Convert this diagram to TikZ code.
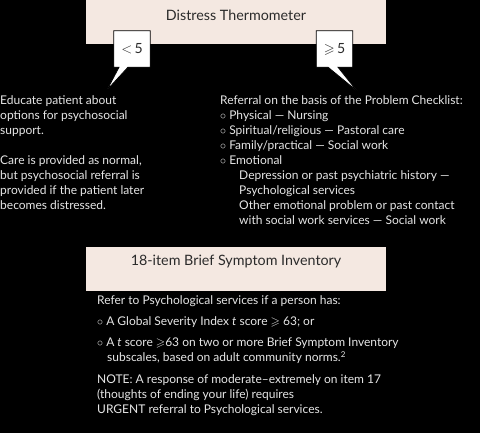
\documentclass[tikz,border=0pt]{standalone}
\usepackage{amssymb}
\usepackage{fontspec}
\setmainfont{Lato}
\usetikzlibrary{calc}

\definecolor{headfill}{HTML}{F4E8E1}
\definecolor{headtext}{HTML}{2B2B2B}
\definecolor{bodytext}{HTML}{E6E6E6}

\begin{document}
\begin{tikzpicture}[x=1pt, y=-1pt,
    headbox/.style={fill=headfill, minimum width=300pt, minimum height=44pt,
                    inner sep=0pt, anchor=north west},
    headlabel/.style={text=headtext, font=\fontsize{14.3}{15}\selectfont},
    cutoffbox/.style={minimum width=36pt, minimum height=36pt, inner sep=0pt},
    cutoffline/.style={draw=black, fill=white, line width=0.8pt, line join=miter},
    cutofflabel/.style={text=headtext, font=\fontsize{14}{15}\selectfont},
    bodyblock/.style={text=bodytext, align=left, inner sep=0pt, anchor=north west,
                      font=\fontsize{12}{15}\selectfont}]

    % -- Sfondo nero, fissa anche i margini --
    \fill[black] (0,0) rectangle (480,433);

    % -- Intestazione: Distress Thermometer --
    \node[headbox] (dtbox) at (86,0) {};
    \node[headlabel] (dtlabel) at (236,15) {Distress Thermometer};

    % -- Fumetti con le soglie --
    \node[cutoffbox] (low) at (132,49) {};
    \node[cutoffbox] (high) at (334.5,49) {};
    \coordinate (lowtip) at (107,90);
    \coordinate (hightip) at (357,91);

    \filldraw[cutoffline] (low.north west) -- (low.north east) -- (low.south east)
        -- ($(low.south)+(-4,0)$) -- (lowtip) -- ($(low.south)+(-13,0)$)
        -- (low.south west) -- cycle;
    \filldraw[cutoffline] (high.north west) -- (high.north east) -- (high.south east)
        -- ($(high.south)+(3.5,0)$) -- (hightip) -- ($(high.south)+(-6.5,0)$)
        -- (high.south west) -- cycle;

    \node[cutofflabel] (lowlabel) at (low) {$<$\,5};
    \node[cutofflabel] (highlabel) at (high) {$\geqslant$\,5};

    % -- Parte sinistra: punteggio basso --
    \node[bodyblock] (educate) at (0,95.5) {Educate patient about\\
        options for psychosocial\\
        support.\\[15pt]
        Care is provided as normal,\\
        but psychosocial referral is\\
        provided if the patient later\\
        becomes distressed.};

    % -- Parte destra: Problem Checklist --
    \node[bodyblock] (referral) at (220,95.5) {Referral on the basis of the Problem Checklist:\\
        $\circ$ Physical --- Nursing\\
        $\circ$ Spiritual/religious --- Pastoral care\\
        $\circ$ Family/practical --- Social work\\
        $\circ$ Emotional\\
        \hspace*{19pt}Depression or past psychiatric history ---\\
        \hspace*{19pt}Psychological services\\
        \hspace*{19pt}Other emotional problem or past contact\\
        \hspace*{19pt}with social work services --- Social work};

    % -- Intestazione: Brief Symptom Inventory --
    \node[headbox] (bsibox) at (86,247) {};
    \node[headlabel] (bsilabel) at (236,262) {18-item Brief Symptom Inventory};

    \node[bodyblock] (refer) at (97,295.5) {Refer to Psychological services if a person has:\\[6pt]
        $\circ$ A Global Severity Index \textit{t} score $\geqslant$ 63; or\\[6pt]
        $\circ$ A \textit{t} score $\geqslant$63 on two or more Brief Symptom Inventory\\
        \hspace*{10pt}subscales, based on adult community norms.\textsuperscript{2}\\[7pt]
        NOTE: A response of moderate--extremely on item 17\\
        (thoughts of ending your life) requires\\
        URGENT referral to Psychological services.};
\end{tikzpicture}
\end{document}
